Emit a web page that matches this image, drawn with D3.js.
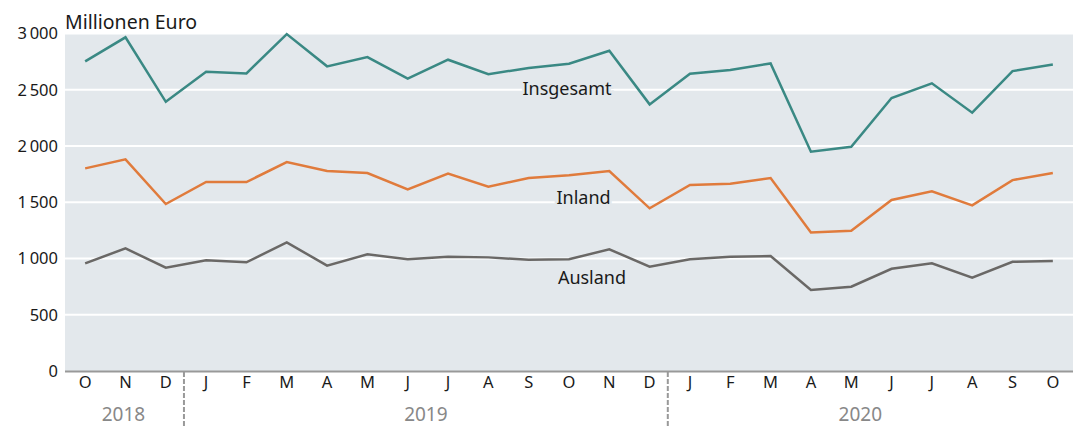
<!DOCTYPE html>
<html>
<head>
<meta charset="utf-8">
<script src="https://cdn.jsdelivr.net/npm/d3@7"></script>
<style>
  body { margin: 0; background: #fff; }
  svg { display: block; font-family: "Noto Sans", "Open Sans", sans-serif; }
</style>
</head>
<body>
<svg id="chart" width="1078" height="428"></svg>
<script>
// Months Oct 2018 - Oct 2020
const monthKeys = ['2018-10','2018-11','2018-12',
  '2019-01','2019-02','2019-03','2019-04','2019-05','2019-06','2019-07','2019-08','2019-09','2019-10','2019-11','2019-12',
  '2020-01','2020-02','2020-03','2020-04','2020-05','2020-06','2020-07','2020-08','2020-09','2020-10'];
const monthLabels = ['O','N','D','J','F','M','A','M','J','J','A','S','O','N','D','J','F','M','A','M','J','J','A','S','O'];
const years = ['2018', '2019', '2020'];

// Millionen Euro
const insgesamt = [2752, 2966, 2393, 2660, 2645, 2995, 2708, 2790, 2598, 2767, 2639, 2693, 2731,
  2847, 2370, 2642, 2675, 2734, 1949, 1993, 2426, 2557, 2296, 2666, 2725];
const inland = [1801, 1881, 1484, 1680, 1680, 1857, 1777, 1760, 1615, 1754, 1638, 1715, 1739,
  1777, 1446, 1653, 1665, 1715, 1232, 1247, 1520, 1597, 1472, 1697, 1760];
const ausland = [957, 1090, 918, 984, 966, 1144, 936, 1037, 993, 1016, 1010, 988, 993,
  1082, 927, 993, 1016, 1022, 720, 749, 909, 957, 829, 971, 978];

const yTicks = [0, 500, 1000, 1500, 2000, 2500, 3000];

const series = [
  { name: 'Insgesamt', values: insgesamt, color: '#3a8984' },
  { name: 'Inland', values: inland, color: '#e07b3c' },
  { name: 'Ausland', values: ausland, color: '#6a6866' }
];

// where the series names sit (month index, value)
const labelAnchors = [
  { name: 'Insgesamt', idx: 11.95, v: 2505 },
  { name: 'Inland', idx: 12.36, v: 1540 },
  { name: 'Ausland', idx: 12.57, v: 830 }
];

const margin = { top: 33.5, right: 5, bottom: 57, left: 65 };
const width = 1078, height = 428;
const bg = '#e3e8ec';
const ink = '#1a1a1a';

const svg = d3.select('#chart');

const x = d3.scaleBand()
  .domain(monthKeys)
  .range([margin.left, width - margin.right])
  .padding(0);

const y = d3.scaleLinear()
  .domain([0, 3000])
  .range([height - margin.bottom, margin.top]);

const cx = k => x(k) + x.bandwidth() / 2;

// Plot background
svg.append('rect')
  .attr('x', margin.left)
  .attr('y', y(3000))
  .attr('width', width - margin.left - margin.right)
  .attr('height', y(0) - y(3000))
  .attr('fill', bg);

// Gridlines
svg.append('g')
  .selectAll('line')
  .data(yTicks.filter(d => d > 0))
  .enter().append('line')
  .attr('x1', margin.left)
  .attr('x2', width - margin.right)
  .attr('y1', d => y(d))
  .attr('y2', d => y(d))
  .attr('stroke', '#fff')
  .attr('stroke-width', 2);

// Y tick labels
svg.append('g')
  .selectAll('text')
  .data(yTicks)
  .enter().append('text')
  .attr('x', 58)
  .attr('y', d => y(d))
  .attr('dy', '0.35em')
  .attr('text-anchor', 'end')
  .style('font-size', '16.5px')
  .attr('fill', ink)
  .text(d => d < 1000 ? String(d) : d3.format('d')(d).replace(/(\d)(\d{3})$/, '$1\u2009$2'));

// Unit label
svg.append('text')
  .attr('x', margin.left)
  .attr('y', 28.5)
  .style('font-size', '19.5px')
  .attr('fill', ink)
  .text('Millionen Euro');

// Lines
const line = d3.line()
  .x((d, i) => cx(monthKeys[i]))
  .y(d => y(d));

series.forEach(s => {
  svg.append('path')
    .datum(s.values)
    .attr('d', line)
    .attr('fill', 'none')
    .attr('stroke', s.color)
    .attr('stroke-width', 2.5)
    .attr('stroke-linejoin', 'miter');
});

// Series labels with halo
svg.append('g')
  .selectAll('text')
  .data(labelAnchors)
  .enter().append('text')
  .attr('x', d => cx(monthKeys[0]) + d.idx * x.bandwidth())
  .attr('y', d => y(d.v))
  .attr('dy', '0.35em')
  .attr('text-anchor', 'middle')
  .style('font-size', '18px')
  .attr('fill', ink)
  .attr('stroke', bg)
  .attr('stroke-width', 5)
  .attr('paint-order', 'stroke')
  .text(d => d.name);

// X axis line
svg.append('line')
  .attr('x1', margin.left)
  .attr('x2', width - margin.right)
  .attr('y1', y(0) + 0.5)
  .attr('y2', y(0) + 0.5)
  .attr('stroke', '#999')
  .attr('stroke-width', 2);

// Month labels
svg.append('g')
  .selectAll('text')
  .data(monthKeys)
  .enter().append('text')
  .attr('x', d => cx(d))
  .attr('y', 388)
  .attr('text-anchor', 'middle')
  .style('font-size', '16.5px')
  .attr('fill', ink)
  .text((d, i) => monthLabels[i]);

// Year separators
const yearStarts = years.map(yr => monthKeys.findIndex(k => k.startsWith(yr)));
svg.append('g')
  .selectAll('line')
  .data(yearStarts.slice(1))
  .enter().append('line')
  .attr('x1', i => x(monthKeys[i]) - 2)
  .attr('x2', i => x(monthKeys[i]) - 2)
  .attr('y1', y(0) + 1)
  .attr('y2', height)
  .attr('stroke', '#999')
  .attr('stroke-width', 2)
  .attr('stroke-dasharray', '5,2');

// Year labels
svg.append('g')
  .selectAll('text')
  .data(years)
  .enter().append('text')
  .attr('x', (yr, j) => {
    const first = yearStarts[j];
    const last = j < years.length - 1 ? yearStarts[j + 1] - 1 : monthKeys.length - 1;
    const left = x(monthKeys[first]) - 2;
    const right = j < years.length - 1 ? x(monthKeys[last]) + x.bandwidth() - 2 : cx(monthKeys[last]);
    return (left + right) / 2;
  })
  .attr('y', 421)
  .attr('text-anchor', 'middle')
  .style('font-size', '19px')
  .attr('fill', '#888')
  .text(d => d);
</script>
</body>
</html>
